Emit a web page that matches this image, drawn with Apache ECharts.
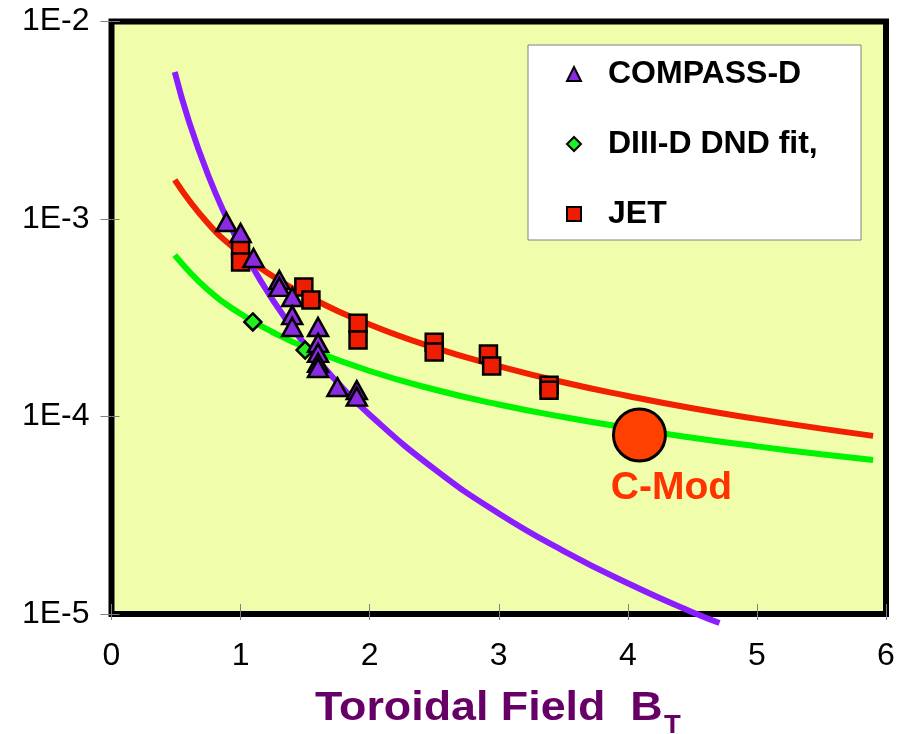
<!DOCTYPE html>
<html>
<head>
<meta charset="utf-8">
<script src="https://cdn.jsdelivr.net/npm/echarts@6/dist/echarts.min.js"></script>
<style>
html,body{margin:0;padding:0;background:#fff;}
#chart{width:912px;height:734px;}
</style>
</head>
<body>
<div id="chart"></div>
<script>
// ---- data ----
const xTicks = [0, 1, 2, 3, 4, 5, 6];
const yTickLabels = ['1E-5', '1E-4', '1E-3', '1E-2'];

const compassB   = [0.89, 1.0, 1.1, 1.3, 1.3, 1.4, 1.4, 1.4, 1.6, 1.6, 1.6, 1.6, 1.6, 1.75, 1.9, 1.9];
const compassVal = [9.66e-4, 8.5e-4, 6.35e-4, 4.91e-4, 4.53e-4, 4.03e-4, 3.26e-4, 2.84e-4, 2.84e-4, 2.36e-4, 2.10e-4, 1.87e-4, 1.76e-4, 1.41e-4, 1.36e-4, 1.26e-4];

const diiidB   = [1.095, 1.5];
const diiidVal = [3.01e-4, 2.17e-4];

const jetB   = [1.0, 1.0, 1.49, 1.545, 1.91, 1.91, 2.5, 2.5, 2.92, 2.945, 3.39, 3.39];
const jetVal = [7.13e-4, 6.06e-4, 4.53e-4, 3.89e-4, 2.97e-4, 2.44e-4, 2.38e-4, 2.12e-4, 2.07e-4, 1.80e-4, 1.44e-4, 1.36e-4];

const cmodB   = [4.09];
const cmodVal = [8.06e-5];

const purpleB   = [0.49, 0.6, 0.75, 0.9, 1.0, 1.25, 1.5, 1.75, 2.0, 2.5, 3.0, 3.5, 4.0, 4.5, 4.71];
const purpleVal = [5.55e-3, 3.12e-3, 1.66e-3, 9.87e-4, 7.32e-4, 3.88e-4, 2.31e-4, 1.49e-4, 1.02e-4, 5.43e-5, 3.23e-5, 2.09e-5, 1.43e-5, 1.02e-5, 9.0e-6];

const redB   = [0.49, 0.75, 1.0, 1.25, 1.5, 2.0, 2.5, 3.0, 3.5, 4.0, 4.5, 5.0, 5.5, 5.9];
const redVal = [1.58e-3, 9.47e-4, 6.71e-4, 5.13e-4, 4.12e-4, 2.92e-4, 2.23e-4, 1.80e-4, 1.49e-4, 1.27e-4, 1.10e-4, 9.73e-5, 8.68e-5, 7.98e-5];

const greenB   = [0.49, 0.75, 1.0, 1.25, 1.5, 2.0, 2.5, 3.0, 3.5, 4.0, 4.5, 5.0, 5.5, 5.9];
const greenVal = [6.57e-4, 4.36e-4, 3.31e-4, 2.67e-4, 2.24e-4, 1.70e-4, 1.37e-4, 1.15e-4, 9.94e-5, 8.75e-5, 7.81e-5, 7.06e-5, 6.44e-5, 6.02e-5];

// ---- build ----
const zip = (a, b) => a.map((v, i) => [v, b[i]]);
const FONT = '"Liberation Sans", Arial, Helvetica, sans-serif';

const chart = echarts.init(document.getElementById('chart'));

const yLabel = v => {
  const e = Math.round(Math.log10(v));
  const idx = e + 5;
  return yTickLabels[idx] !== undefined ? yTickLabels[idx] : '';
};

const option = {
  animation: false,
  backgroundColor: '#ffffff',
  grid: {
    left: 111.5, right: 26, top: 21.5, bottom: 120,
    show: true, backgroundColor: '#F0FDAA',
    borderColor: '#000000', borderWidth: 6
  },
  xAxis: [
    {
      type: 'value', min: xTicks[0], max: xTicks[xTicks.length - 1], interval: 1,
      axisLine: { show: false },
      axisTick: { show: true, inside: false, length: 6, lineStyle: { color: '#808080', width: 1 } },
      splitLine: { show: false },
      axisLabel: { show: true, margin: 26, fontSize: 32, color: '#000', fontFamily: FONT }
    },
    {
      type: 'value', min: xTicks[0], max: xTicks[xTicks.length - 1], interval: 1, position: 'bottom',
      axisLine: { show: false },
      axisTick: { show: true, inside: true, length: 10, lineStyle: { color: '#808080', width: 1 } },
      splitLine: { show: false },
      axisLabel: { show: false }
    }
  ],
  yAxis: [
    {
      type: 'log', logBase: 10, min: 1e-5, max: 1e-2,
      axisLine: { show: false },
      axisTick: { show: true, inside: false, length: 11, lineStyle: { color: '#808080', width: 1 } },
      minorTick: { show: false },
      splitLine: { show: false },
      axisLabel: { show: true, margin: 22, fontSize: 32, color: '#000', fontFamily: FONT, formatter: yLabel }
    },
    {
      type: 'log', logBase: 10, min: 1e-5, max: 1e-2, position: 'left',
      axisLine: { show: false },
      axisTick: { show: true, inside: true, length: 8, lineStyle: { color: '#808080', width: 1 } },
      splitLine: { show: false },
      axisLabel: { show: false }
    }
  ],
  legend: {
    data: [
      { name: 'COMPASS-D', icon: 'triangle' },
      { name: 'DIII-D DND fit,', icon: 'diamond' },
      { name: 'JET', icon: 'rect' }
    ],
    orient: 'vertical',
    left: 561, top: 53,
    itemWidth: 14, itemHeight: 14, itemGap: 38,
    textStyle: { fontSize: 32, fontWeight: 'bold', color: '#000', fontFamily: FONT, padding: [0, 0, 0, 22] },
    z: 10
  },
  graphic: [
    {
      type: 'rect', z: 5,
      shape: { x: 528, y: 45, width: 333, height: 195 },
      style: { fill: '#ffffff', stroke: '#808080', lineWidth: 1 }
    },
    {
      type: 'text', z: 10, x: 315, y: 709, scaleX: 1.12,
      style: { text: 'Toroidal Field  B', fontSize: 40, fontWeight: 'bold', fontFamily: FONT,
               fill: '#660066', align: 'left', verticalAlign: 'middle' }
    },
    {
      type: 'text', z: 10, x: 664, y: 726, scaleX: 1.1,
      style: { text: 'T', fontSize: 25, fontWeight: 'bold', fontFamily: FONT,
               fill: '#660066', align: 'left', verticalAlign: 'middle' }
    }
  ],
  series: [
    {
      name: 'purple fit', type: 'line', data: zip(purpleB, purpleVal), smooth: true,
      showSymbol: false, symbol: 'none', clip: false, z: 2,
      lineStyle: { color: '#8A1EFF', width: 6 }
    },
    {
      name: 'red fit', type: 'line', data: zip(redB, redVal), smooth: true,
      showSymbol: false, symbol: 'none', z: 2,
      lineStyle: { color: '#F02000', width: 6 }
    },
    {
      name: 'green fit', type: 'line', data: zip(greenB, greenVal), smooth: true,
      showSymbol: false, symbol: 'none', z: 2,
      lineStyle: { color: '#00F400', width: 6 }
    },
    {
      name: 'JET', type: 'scatter', data: zip(jetB, jetVal), symbol: 'rect', symbolSize: 17, z: 3,
      itemStyle: { color: '#EE1C00', borderColor: '#000', borderWidth: 2.5, opacity: 1 }
    },
    {
      name: 'DIII-D DND fit,', type: 'scatter', data: zip(diiidB, diiidVal), symbol: 'diamond', symbolSize: 17, z: 3,
      itemStyle: { color: '#22EE22', borderColor: '#000', borderWidth: 2.5, opacity: 1 }
    },
    {
      name: 'COMPASS-D', type: 'scatter', data: zip(compassB, compassVal), symbol: 'triangle', symbolSize: [20, 18], z: 4,
      itemStyle: { color: '#8A2BE2', borderColor: '#000', borderWidth: 2.5, opacity: 1 }
    },
    {
      name: 'C-Mod', type: 'scatter', data: zip(cmodB, cmodVal), symbol: 'circle', symbolSize: 52, z: 4,
      itemStyle: { color: '#FF4000', borderColor: '#000', borderWidth: 3, opacity: 1 },
      label: {
        show: true, position: 'bottom', distance: 6, offset: [32, 0], formatter: 'C-Mod',
        fontSize: 39, fontWeight: 'bold', color: '#FF3300', fontFamily: FONT
      }
    }
  ]
};
chart.setOption(option);
</script>
</body>
</html>
